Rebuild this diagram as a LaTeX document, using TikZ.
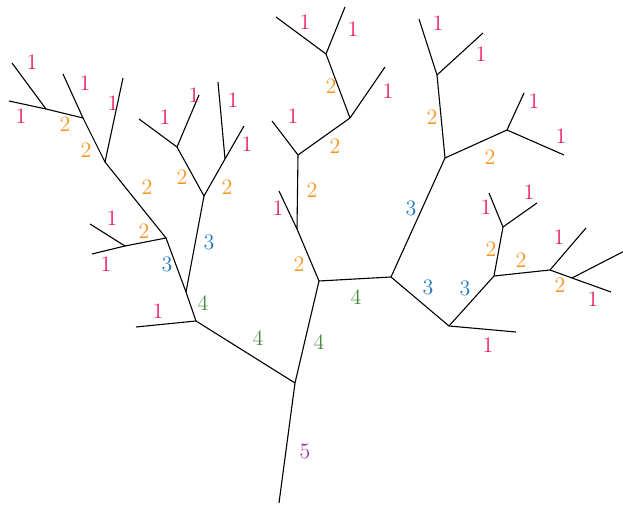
\documentclass[tikz,border=0pt]{standalone}
\begin{document}
\begin{tikzpicture}[x=0.5pt,y=-0.5pt,
  br/.style={line width=0.55pt,black},
  lab/.style={inner sep=0pt,font=\fontsize{11}{13}\selectfont},
  o1/.style={lab,text=c1},o2/.style={lab,text=c2},o3/.style={lab,text=c3},
  o4/.style={lab,text=c4},o5/.style={lab,text=c5}]
\definecolor{c1}{RGB}{232,30,104}
\definecolor{c2}{RGB}{247,148,30}
\definecolor{c3}{RGB}{30,120,190}
\definecolor{c4}{RGB}{70,140,60}
\definecolor{c5}{RGB}{150,60,160}
\useasboundingbox (0,0) rectangle (623,507);
\clip (0,0) rectangle (623,507);
% points
\coordinate (r0) at (279,503); \coordinate (n5) at (295,383);
\coordinate (nl) at (196,321); \coordinate (nr) at (319,281);
\coordinate (l1) at (136,327); \coordinate (a) at (186,292);
\coordinate (b) at (166,238); \coordinate (c) at (204,196);
\coordinate (d) at (105,162); \coordinate (e) at (125,246);
\coordinate (e1) at (90,224); \coordinate (e2) at (92,254);
\coordinate (d1) at (123,78); \coordinate (f) at (83,118);
\coordinate (f1) at (63,74); \coordinate (g) at (46,109);
\coordinate (g1) at (12,63); \coordinate (g2) at (9,101);
\coordinate (h) at (177,147); \coordinate (i) at (225,159);
\coordinate (h1) at (139,119); \coordinate (h2) at (199,95);
\coordinate (i1) at (218,82); \coordinate (i2) at (244,126);
\coordinate (j) at (297,229); \coordinate (k) at (391,277);
\coordinate (j1) at (279,191); \coordinate (m) at (298,155);
\coordinate (m1) at (272,121); \coordinate (p) at (350,118);
\coordinate (p1) at (385,67); \coordinate (q) at (326,54);
\coordinate (q1) at (276,17); \coordinate (q2) at (345,7);
\coordinate (s) at (445,158); \coordinate (t) at (449,326);
\coordinate (u) at (437,75); \coordinate (v) at (507,130);
\coordinate (u1) at (419,19); \coordinate (u2) at (483,33);
\coordinate (v1) at (524,93); \coordinate (v2) at (564,155);
\coordinate (t1) at (516,332); \coordinate (w) at (494,276);
\coordinate (x) at (503,227); \coordinate (y) at (550,270);
\coordinate (x1) at (489,193); \coordinate (x2) at (537,203);
\coordinate (y1) at (586,228); \coordinate (z) at (572,278);
\coordinate (z1) at (611,292); \coordinate (z2) at (640,243);
% branches
\draw[br] (r0) -- (n5);
\draw[br] (n5) -- (nl); \draw[br] (n5) -- (nr);
\draw[br] (nl) -- (l1); \draw[br] (nl) -- (a);
\draw[br] (a) -- (b); \draw[br] (a) -- (c);
\draw[br] (b) -- (d); \draw[br] (b) -- (e);
\draw[br] (e) -- (e1); \draw[br] (e) -- (e2);
\draw[br] (d) -- (d1); \draw[br] (d) -- (f);
\draw[br] (f) -- (f1); \draw[br] (f) -- (g);
\draw[br] (g) -- (g1); \draw[br] (g) -- (g2);
\draw[br] (c) -- (h); \draw[br] (c) -- (i);
\draw[br] (h) -- (h1); \draw[br] (h) -- (h2);
\draw[br] (i) -- (i1); \draw[br] (i) -- (i2);
\draw[br] (nr) -- (j); \draw[br] (nr) -- (k);
\draw[br] (j) -- (j1); \draw[br] (j) -- (m);
\draw[br] (m) -- (m1); \draw[br] (m) -- (p);
\draw[br] (p) -- (p1); \draw[br] (p) -- (q);
\draw[br] (q) -- (q1); \draw[br] (q) -- (q2);
\draw[br] (k) -- (s); \draw[br] (k) -- (t);
\draw[br] (s) -- (u); \draw[br] (s) -- (v);
\draw[br] (u) -- (u1); \draw[br] (u) -- (u2);
\draw[br] (v) -- (v1); \draw[br] (v) -- (v2);
\draw[br] (t) -- (t1); \draw[br] (t) -- (w);
\draw[br] (w) -- (x); \draw[br] (w) -- (y);
\draw[br] (x) -- (x1); \draw[br] (x) -- (x2);
\draw[br] (y) -- (y1); \draw[br] (y) -- (z);
\draw[br] (z) -- (z1); \draw[br] (z) -- (z2);
% labels
\node[o5] (L5) at (305,451) {5};
\node[o4] (L4a) at (258,338) {4};
\node[o4] (L4b) at (319,342) {4};
\node[o4] (L4c) at (203,303) {4};
\node[o4] (L4d) at (356,297) {4};
\node[o3] (L3a) at (167,264) {3};
\node[o3] (L3b) at (209,242) {3};
\node[o3] (L3c) at (411,208) {3};
\node[o3] (L3d) at (428,287) {3};
\node[o3] (L3e) at (465,288) {3};
\node[o2] (L2a) at (144,231) {2};
\node[o2] (L2b) at (147,187) {2};
\node[o2] (L2c) at (86,150) {2};
\node[o2] (L2d) at (65,124) {2};
\node[o2] (L2e) at (182,177) {2};
\node[o2] (L2f) at (227,187) {2};
\node[o2] (L2g) at (299,264) {2};
\node[o2] (L2h) at (312,190) {2};
\node[o2] (L2i) at (335,146) {2};
\node[o2] (L2j) at (331,86) {2};
\node[o2] (L2k) at (432,117) {2};
\node[o2] (L2l) at (490,157) {2};
\node[o2] (L2m) at (491,249) {2};
\node[o2] (L2n) at (521,260) {2};
\node[o2] (L2o) at (560,285) {2};
\node[o1] (L1a) at (158,311) {1};
\node[o1] (L1b) at (112,218) {1};
\node[o1] (L1c) at (106,264) {1};
\node[o1] (L1d) at (113,103) {1};
\node[o1] (L1e) at (85,83) {1};
\node[o1] (L1f) at (32,62) {1};
\node[o1] (L1g) at (21,116) {1};
\node[o1] (L1h) at (165,117) {1};
\node[o1] (L1i) at (194,95) {1};
\node[o1] (L1j) at (233,100) {1};
\node[o1] (L1k) at (247,144) {1};
\node[o1] (L1l) at (278,208) {1};
\node[o1] (L1m) at (293,116) {1};
\node[o1] (L1n) at (388,91) {1};
\node[o1] (L1o) at (305,22) {1};
\node[o1] (L1p) at (353,29) {1};
\node[o1] (L1q) at (438,23) {1};
\node[o1] (L1r) at (481,54) {1};
\node[o1] (L1s) at (534,101) {1};
\node[o1] (L1t) at (561,136) {1};
\node[o1] (L1u) at (488,345) {1};
\node[o1] (L1v) at (486,207) {1};
\node[o1] (L1w) at (529,192) {1};
\node[o1] (L1x) at (559,237) {1};
\node[o1] (L1y) at (593,299) {1};
\node[o1] (L1z) at (629,264) {1};
\end{tikzpicture}
\end{document}
